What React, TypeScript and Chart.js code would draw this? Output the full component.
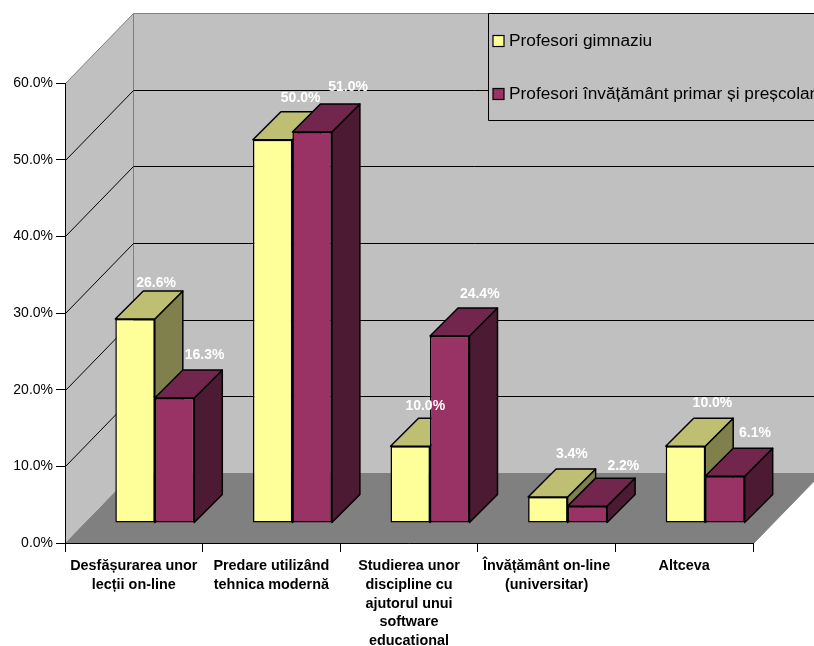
import { useEffect, useRef } from "react";
import { Chart, registerables } from "chart.js";

Chart.register(...registerables);

const categories = [
  ["Desfășurarea unor", "lecții on-line"],
  ["Predare utilizând", "tehnica modernă"],
  ["Studierea unor", "discipline cu", "ajutorul unui", "software", "educational"],
  ["Învățământ on-line", "(universitar)"],
  ["Altceva"],
];
const gimnaziu = [26.6, 50.0, 10.0, 3.4, 10.0];
const primar = [16.3, 51.0, 24.4, 2.2, 6.1];

// Hand-placed data label offsets, measured from the top centre of each bar's front face.
const gimnaziuLabelOffsets = [[21, -36], [28, -42], [15, -40], [24, -43], [27, -43]];
const primarLabelOffsets = [[30, -43], [36, -45], [30, -42], [36, -40], [30, -43]];

const FONT = '"Liberation Sans", Arial, sans-serif';
const WALL = "#C0C0C0";
const FLOOR = "#808080";
const EDGE = "#808080";

// Projection of the 3D box: wall depth, the bars' set-in from the front edge, bar depth.
const WALL_DX = 68;
const WALL_DY = -70;
const BAR_INSET_X = 21;
const BAR_INSET_Y = -20;
const BAR_DEPTH = 28;

const poly = (ctx: CanvasRenderingContext2D, pts: number[][], fill: string, stroke?: string, lw = 1) => {
  ctx.beginPath();
  pts.forEach(([x, y], i) => (i ? ctx.lineTo(x, y) : ctx.moveTo(x, y)));
  ctx.closePath();
  ctx.fillStyle = fill;
  ctx.fill();
  if (stroke) {
    ctx.strokeStyle = stroke;
    ctx.lineWidth = lw;
    ctx.stroke();
  }
};

const box3d = {
  id: "box3d",
  beforeDraw(chart: any) {
    const { ctx, chartArea: a, scales } = chart;
    const L = a.left + 0.5;
    const B = a.bottom + 0.5;
    const T = a.top + 0.5;
    const R = a.right + 0.5;
    const ext = 8;
    ctx.save();
    ctx.fillStyle = "#FFFFFF";
    ctx.fillRect(0, 0, chart.width, chart.height);
    // side wall and back wall
    poly(ctx, [[L, T], [L + WALL_DX, T + WALL_DY], [L + WALL_DX, B + WALL_DY], [L, B]], WALL, EDGE);
    poly(ctx, [[L + WALL_DX, T + WALL_DY], [R + WALL_DX, T + WALL_DY], [R + WALL_DX, B + WALL_DY], [L + WALL_DX, B + WALL_DY]], WALL, EDGE);
    // gridlines run across the side wall and on along the back wall
    ctx.strokeStyle = "#000000";
    ctx.lineWidth = 1;
    for (const t of scales.y.ticks) {
      if (t.value === 0 || t.value === scales.y.max) continue;
      const y = Math.round(scales.y.getPixelForValue(t.value)) + 0.5;
      ctx.beginPath();
      ctx.moveTo(L, y);
      ctx.lineTo(L + WALL_DX, y + WALL_DY);
      ctx.lineTo(R + WALL_DX + ext, y + WALL_DY);
      ctx.stroke();
    }
    // floor
    poly(ctx, [[L, B], [L + WALL_DX, B + WALL_DY], [R + WALL_DX, B + WALL_DY], [R, B]], FLOOR, EDGE);
    ctx.restore();
  },
  // Side and top faces go down first, left series before right, so the right bar's
  // top covers the left bar's side. The front faces are then drawn by the bar elements.
  beforeDatasetsDraw(chart: any) {
    const { ctx } = chart;
    ctx.save();
    ctx.translate(BAR_INSET_X, BAR_INSET_Y);
    ctx.lineJoin = "round";
    const count = chart.data.labels.length;
    for (let i = 0; i < count; i++) {
      chart.data.datasets.forEach((ds: any, di: number) => {
        const el = chart.getDatasetMeta(di).data[i];
        const r = el.x + el.width / 2;
        const l = el.x - el.width / 2;
        const d = BAR_DEPTH;
        poly(ctx, [[r, el.y], [r + d, el.y - d], [r + d, el.base - d], [r, el.base]], ds.sideColor, "#000000", 1.5);
        poly(ctx, [[l, el.y], [l + d, el.y - d], [r + d, el.y - d], [r, el.y]], ds.topColor, "#000000", 1.5);
      });
    }
    ctx.restore();
  },
  beforeDatasetDraw(chart: any) {
    chart.ctx.save();
    chart.ctx.translate(BAR_INSET_X, BAR_INSET_Y);
  },
  afterDatasetDraw(chart: any) {
    chart.ctx.restore();
  },
  afterDraw(chart: any) {
    const { ctx } = chart;
    ctx.save();
    // data labels
    ctx.font = `bold 14px ${FONT}`;
    ctx.fillStyle = "#FFFFFF";
    ctx.textAlign = "center";
    ctx.textBaseline = "middle";
    chart.data.datasets.forEach((ds: any, di: number) => {
      chart.getDatasetMeta(di).data.forEach((el: any, i: number) => {
        const [ox, oy] = ds.labelOffsets[i];
        ctx.fillText(`${ds.data[i].toFixed(1)}%`, el.x + BAR_INSET_X + ox, el.y + BAR_INSET_Y + oy);
      });
    });
    // legend panel, running off the right edge of the canvas
    poly(ctx, [[488.5, 13.5], [830, 13.5], [830, 120.5], [488.5, 120.5]], WALL, "#000000");
    ctx.textAlign = "left";
    ctx.font = `17.3px ${FONT}`;
    chart.data.datasets.forEach((ds: any, di: number) => {
      const cy = di === 0 ? 41 : 94;
      ctx.fillStyle = ds.backgroundColor;
      ctx.strokeStyle = "#000000";
      ctx.lineWidth = 1.2;
      ctx.fillRect(493, cy - 5.5, 11, 11);
      ctx.strokeRect(493, cy - 5.5, 11, 11);
      ctx.fillStyle = "#000000";
      ctx.fillText(ds.label, 509, cy + 0.5);
    });
    ctx.restore();
  },
};

export default function App() {
  const ref = useRef<HTMLCanvasElement>(null);
  useEffect(() => {
    const chart = new Chart(ref.current!, {
      type: "bar",
      plugins: [box3d],
      data: {
        labels: categories,
        datasets: [
          {
            label: "Profesori gimnaziu",
            data: gimnaziu,
            backgroundColor: "#FFFF99",
            topColor: "#BFBF73",
            sideColor: "#80804D",
            labelOffsets: gimnaziuLabelOffsets,
            borderColor: "#000000",
            borderWidth: 1.5,
            borderSkipped: false,
            clip: false,
          },
          {
            label: "Profesori învățământ primar și preșcolar",
            data: primar,
            backgroundColor: "#993366",
            topColor: "#73264D",
            sideColor: "#4D1A33",
            labelOffsets: primarLabelOffsets,
            borderColor: "#000000",
            borderWidth: 1.5,
            borderSkipped: false,
            clip: false,
          },
        ] as any,
      },
      options: {
        responsive: false,
        animation: false,
        layout: { padding: { top: 83, right: 61, left: 0, bottom: 0 } },
        datasets: { bar: { categoryPercentage: 0.574, barPercentage: 1 } },
        plugins: { legend: { display: false }, tooltip: { enabled: false }, title: { display: false } },
        scales: {
          x: {
            afterFit: (s: any) => { s.height = 103; },
            border: { color: "#000000", width: 1 },
            grid: { drawOnChartArea: false, drawTicks: true, tickLength: 9, tickColor: "#000000" },
            ticks: {
              color: "#000000",
              maxRotation: 0,
              minRotation: 0,
              autoSkip: false,
              padding: 5,
              font: { family: FONT, size: 14.4, weight: "bold", lineHeight: 1.3 },
            },
          },
          y: {
            min: 0,
            max: 60,
            afterFit: (s: any) => { s.width = 65; },
            border: { color: "#000000", width: 1 },
            grid: { drawOnChartArea: false, drawTicks: true, tickLength: 9, tickColor: "#000000" },
            ticks: {
              stepSize: 10,
              color: "#000000",
              padding: 3,
              font: { family: FONT, size: 14 },
              callback: (v: any) => `${Number(v).toFixed(1)}%`,
            },
          },
        },
      } as any,
    });
    return () => chart.destroy();
  }, []);
  return (
    <div style={{ position: "absolute", left: 0, top: 0, width: 814, height: 646 }}>
      <canvas ref={ref} width={814} height={646} style={{ display: "block" }} />
    </div>
  );
}
